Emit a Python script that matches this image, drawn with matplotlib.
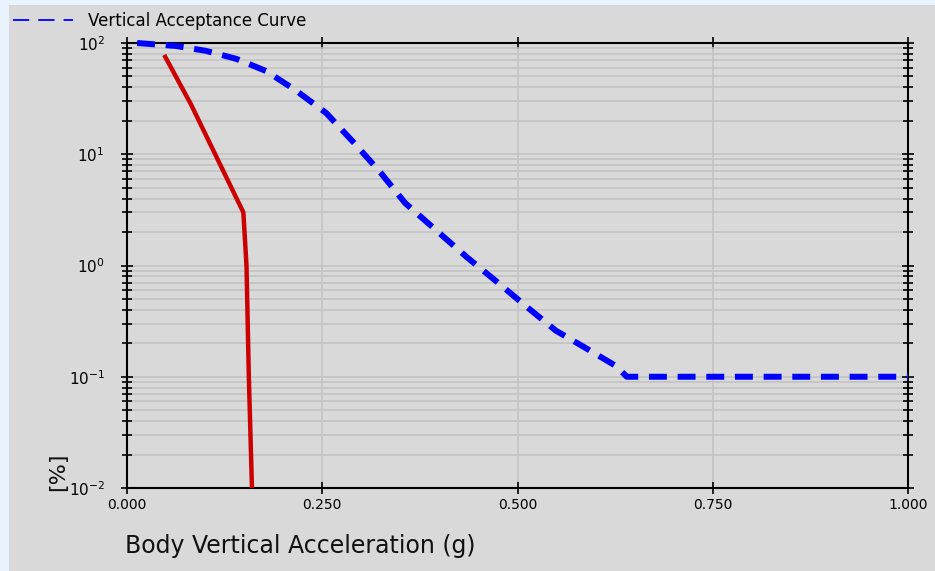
import matplotlib
matplotlib.use('Agg')

import matplotlib.pyplot as plt
from matplotlib.lines import Line2D
from matplotlib.patches import Rectangle
from matplotlib.ticker import LogLocator, NullFormatter, FixedLocator

# Vertical acceptance curve (blue, dashed)
accept_x = [0.013, 0.063, 0.101, 0.140, 0.178, 0.215, 0.255, 0.291, 0.325, 0.356,
            0.397, 0.435, 0.474, 0.511, 0.549, 0.588, 0.626, 0.640, 1.000]
accept_y = [100, 94, 85, 72, 56, 38, 23.5, 12.6, 6.8, 3.65,
            2.04, 1.19, 0.71, 0.43, 0.26, 0.18, 0.125, 0.10, 0.10]

# Measured body vertical acceleration (red)
meas_x = [0.049, 0.082, 0.149, 0.153, 0.156, 0.160]
meas_y = [75, 28, 3.0, 1.0, 0.1, 0.01]

x_ticks = [0.0, 0.25, 0.5, 0.75, 1.0]
x_ticklabels = ['0.000', '0.250', '0.500', '0.750', '1.000']
y_ticks = [1e-2, 1e-1, 1e0, 1e1, 1e2]
y_ticklabels = [r'$10^{-2}$', r'$10^{-1}$', r'$10^{0}$', r'$10^{1}$', r'$10^{2}$']

W, H = 935, 571
fig = plt.figure(figsize=(W / 100, H / 100), dpi=100)
fig.patch.set_facecolor('#e8f3fd')
fig.patches.append(Rectangle((9 / W, 0), 1, (H - 5) / H, transform=fig.transFigure,
                             facecolor='#d9d9d9', edgecolor='none', zorder=-10))

ax = fig.add_axes([127 / W, (H - 488) / H, (908 - 127) / W, (488 - 43) / H])
ax.set_facecolor('#d9d9d9')

ax.plot(accept_x, accept_y, color='#0000ff', lw=4.3, dashes=(3, 1.8),
        solid_capstyle='butt', dash_capstyle='butt', clip_on=False, zorder=3)
ax.plot(meas_x, meas_y, color='#cc0000', lw=3.2, zorder=3)

ax.set_yscale('log')
ax.set_xlim(0, 1.0)
ax.set_ylim(1e-2, 1e2)

ax.xaxis.set_major_locator(FixedLocator(x_ticks))
ax.set_xticklabels(x_ticklabels, fontsize=10)
ax.yaxis.set_major_locator(FixedLocator(y_ticks))
ax.set_yticklabels(y_ticklabels, fontsize=11)
ax.yaxis.set_minor_locator(LogLocator(base=10, subs=range(2, 10)))
ax.yaxis.set_minor_formatter(NullFormatter())

ax.tick_params(axis='both', which='both', direction='inout', color='black',
               top=True, right=True, width=1.2)
ax.tick_params(axis='y', which='major', length=8, pad=12)
ax.tick_params(axis='y', which='minor', length=7)
ax.tick_params(axis='x', which='major', length=8, pad=3)

ax.grid(True, which='both', axis='y', color='#c3c3c3', lw=1.2)
ax.grid(True, which='major', axis='x', color='#c3c3c3', lw=1.2)
ax.set_axisbelow(True)

for s in ax.spines.values():
    s.set_color('black')
    s.set_linewidth(1.5)

fig.text(125 / W, (H - 546) / H, 'Body Vertical Acceleration (g)', fontsize=17,
         ha='left', va='center', color='#111111')
fig.text(58 / W, (H - 472) / H, '[%]', fontsize=16, rotation=90,
         ha='center', va='center', color='#111111')

handle = Line2D([], [], color='#0000ff', lw=1.3, dashes=(9, 5))
fig.legend(handles=[handle], labels=['Vertical Acceptance Curve'],
           loc='center left', bbox_to_anchor=(-2 / W, (H - 21) / H),
           frameon=False, fontsize=12, handlelength=3.6, handletextpad=0.9)

fig.savefig('out.png', dpi=100, facecolor=fig.get_facecolor())
